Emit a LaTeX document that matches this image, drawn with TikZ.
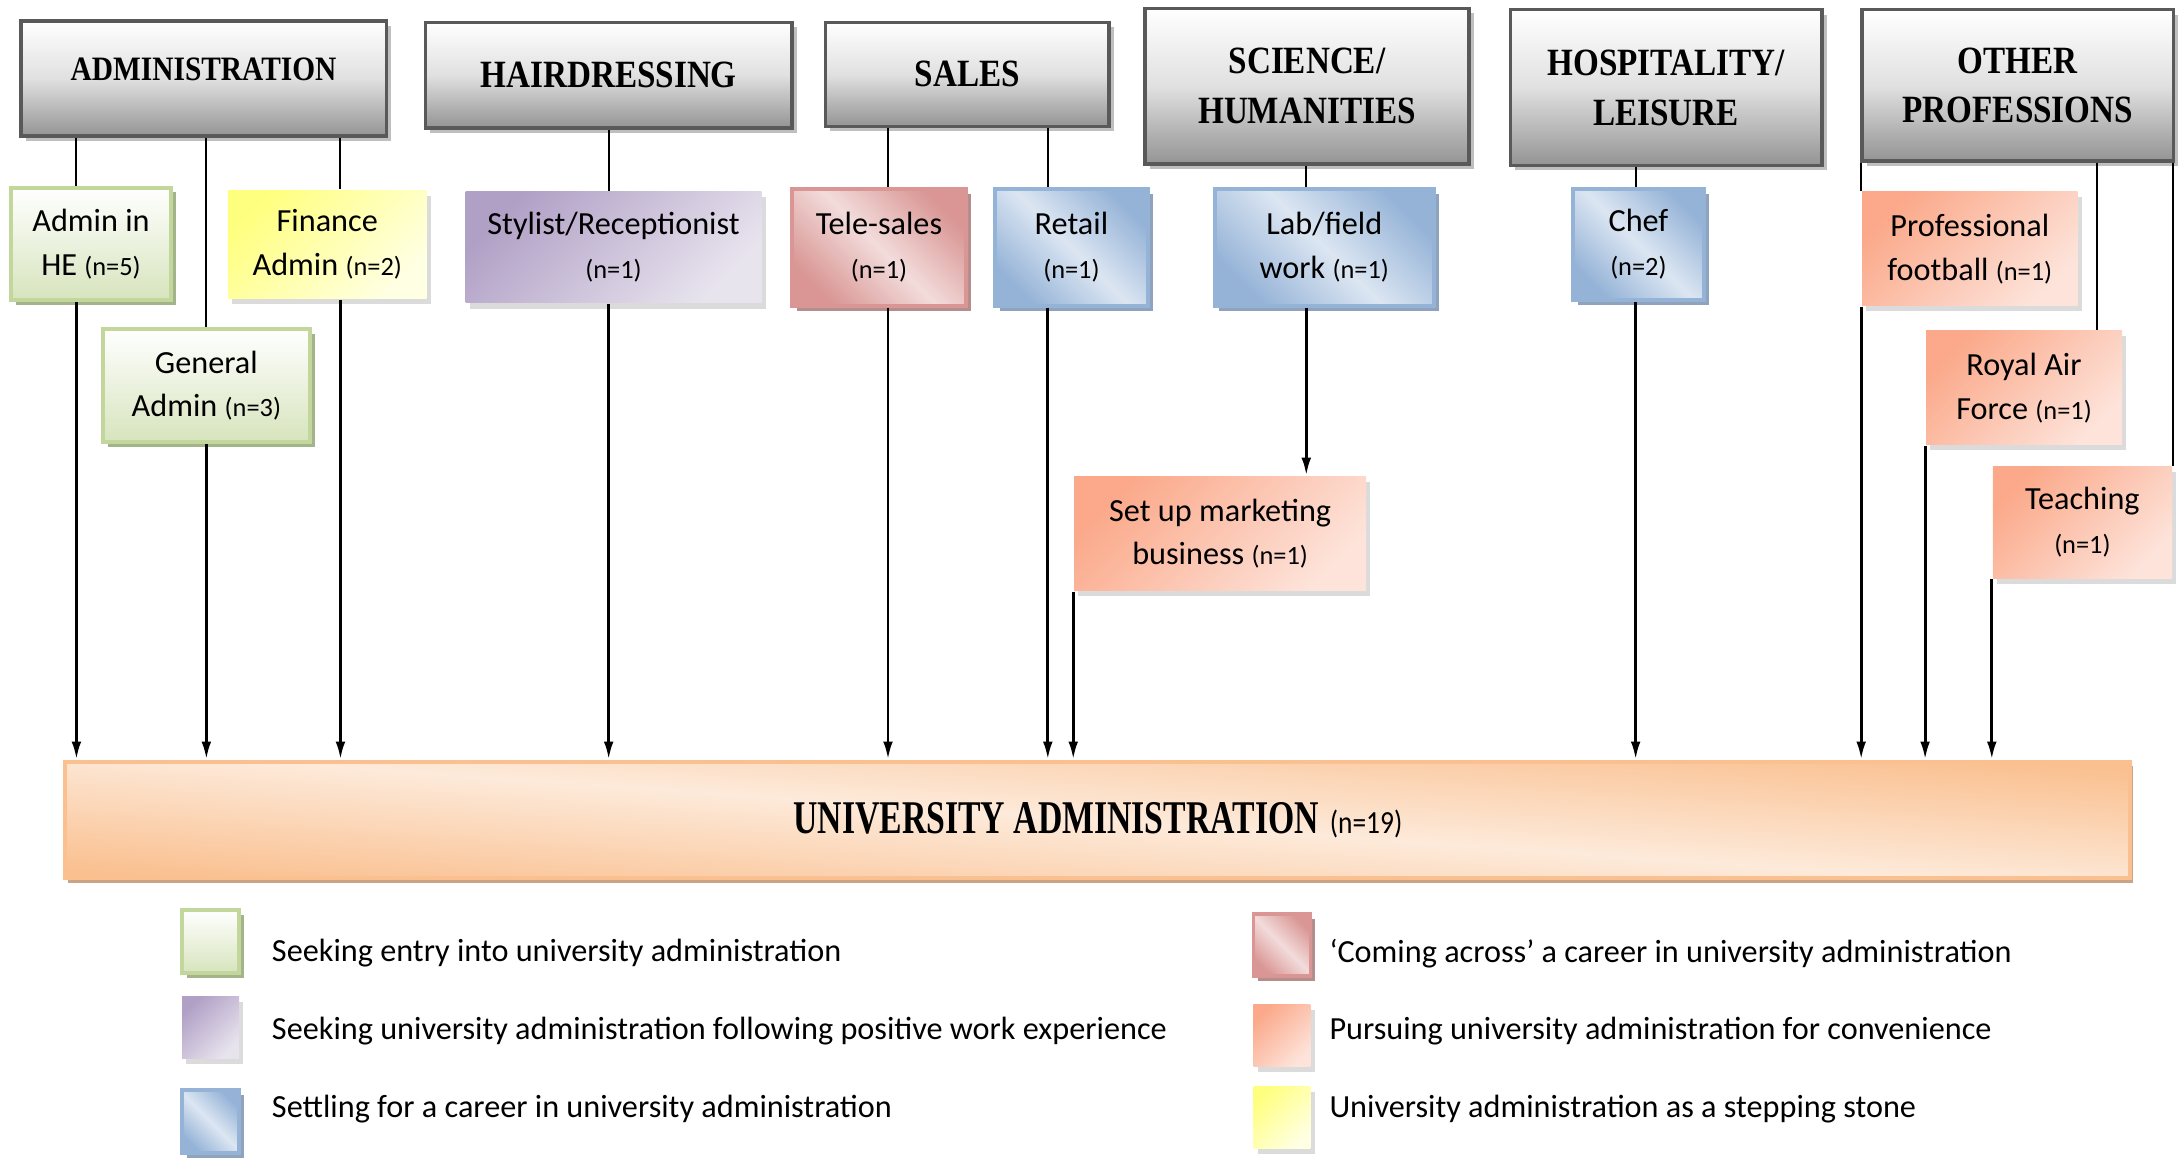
\documentclass[tikz,border=0pt]{standalone}
\usepackage{fontspec}
\usepackage{graphicx}
\usepackage{tikz}
\usetikzlibrary{arrows.meta,shadows,calc}
\setmainfont{Carlito}
\newfontfamily\headfont[FakeStretch=0.86]{Liberation Serif}
\newfontfamily\bighead[FakeStretch=0.72]{Liberation Serif}
\definecolor{hdborder}{HTML}{595959}
\definecolor{grnline}{HTML}{C3D69B}
\definecolor{grnfill}{HTML}{D7E4BD}
\definecolor{grnshadow}{HTML}{A3B38A}
\definecolor{ylwdark}{HTML}{FFFF7F}
\definecolor{ylwlight}{HTML}{FFFFE3}
\definecolor{prpdark}{HTML}{B1A0C6}
\definecolor{prplight}{HTML}{E8E4EE}
\definecolor{reddark}{HTML}{D99694}
\definecolor{redlight}{HTML}{F2DCDB}
\definecolor{redshadow}{HTML}{B48E8D}
\definecolor{bludark}{HTML}{95B3D7}
\definecolor{blulight}{HTML}{DCE6F2}
\definecolor{blushadow}{HTML}{8FA3BC}
\definecolor{orgdark}{HTML}{FBA98A}
\definecolor{orglight}{HTML}{FDE3DA}
\definecolor{pchdark}{HTML}{FAC090}
\definecolor{pchlight}{HTML}{FDEADA}
\definecolor{pchshadow}{HTML}{CBA486}
\newcommand{\ns}[1]{{\fontsize{5.4}{9}\selectfont #1}}

\begin{document}
\begin{tikzpicture}[x=0.1mm,y=-0.1mm]
        \tikzstyle{sector} = [rectangle, draw=hdborder, line width=0.7pt, align=center, top color=white, bottom color=black!42, middle color=black!12, drop shadow={shadow xshift=0.35mm, shadow yshift=-0.35mm, fill=black!25, opacity=1}, font=\headfont\bfseries\fontsize{7.9}{10.2}\selectfont]
        \tikzstyle{job} = [rectangle, align=center, inner sep=1pt, font=\fontsize{6.6}{9}\selectfont]
        \tikzstyle{seek} = [job, draw=grnline, line width=0.8pt, top color=white, bottom color=grnfill, drop shadow={shadow xshift=0.35mm, shadow yshift=-0.35mm, fill=grnshadow, opacity=1}]
        \tikzstyle{stone} = [job, top color=ylwdark, bottom color=ylwlight, shading angle=45, drop shadow={shadow xshift=0.3mm, shadow yshift=-0.4mm, fill=black!40, opacity=0.35}]
        \tikzstyle{posexp} = [job, top color=prpdark, bottom color=prplight, shading angle=45, drop shadow={shadow xshift=0.3mm, shadow yshift=-0.4mm, fill=black!40, opacity=0.35}]
        \tikzstyle{across} = [job, draw=reddark, line width=0.8pt, top color=reddark, bottom color=reddark, middle color=redlight, shading angle=-45, drop shadow={shadow xshift=0.35mm, shadow yshift=-0.35mm, fill=redshadow, opacity=1}]
        \tikzstyle{settle} = [job, draw=bludark, line width=0.8pt, top color=bludark, bottom color=bludark, middle color=blulight, shading angle=-45, drop shadow={shadow xshift=0.35mm, shadow yshift=-0.35mm, fill=blushadow, opacity=1}]
        \tikzstyle{conv} = [job, top color=orgdark, bottom color=orglight, shading angle=45, drop shadow={shadow xshift=0.3mm, shadow yshift=-0.4mm, fill=black!40, opacity=0.35}]
        \tikzstyle{uadmin} = [rectangle, draw=pchdark, line width=0.8pt, top color=pchdark, bottom color=pchdark, middle color=pchlight, shading angle=-4, drop shadow={shadow xshift=0.2mm, shadow yshift=-0.35mm, fill=pchshadow, opacity=1}]
        \tikzstyle{e} = [line width=0.4pt]
        \tikzstyle{arr} = [line width=0.6pt, -{Latex[length=1.3mm,width=0.7mm]}]
        \tikzstyle{lt} = [anchor=west, inner sep=0pt, font=\fontsize{6.6}{8}\selectfont]

        \useasboundingbox (0,0) rectangle (1568,833);

        \node[sector, minimum width=26.3mm, minimum height=8.3mm, text depth=1.4mm](adm) at (146.5,56.5){\fontsize{7}{9}\selectfont ADMINISTRATION};
        \node[sector, minimum width=26.4mm, minimum height=7.6mm](hair) at (438,54){HAIRDRESSING};
        \node[sector, minimum width=20.4mm, minimum height=7.5mm](sales) at (696,53.5){SALES};
        \node[sector, minimum width=23.3mm, minimum height=11.2mm](sci) at (940.5,62){SCIENCE/\\HUMANITIES};
        \node[sector, minimum width=22.4mm, minimum height=11.2mm](hosp) at (1199,63){HOSPITALITY/\\LEISURE};
        \node[sector, minimum width=22.4mm, minimum height=10.9mm](other) at (1452,61.5){OTHER\\PROFESSIONS};

        \node[seek, minimum width=11.5mm, minimum height=8.1mm](he) at (65.5,175.5){Admin in\\HE \ns{(n=5)}};
        \node[seek, minimum width=14.9mm, minimum height=8.1mm](gen) at (148.5,277.5){General\\Admin \ns{(n=3)}};
        \node[stone, minimum width=14.3mm, minimum height=7.8mm](fin) at (235.5,176){Finance\\Admin \ns{(n=2)}};
        \node[posexp, minimum width=21.3mm, minimum height=8mm](sty) at (441.5,178){Stylist/Receptionist\\\ns{(n=1)}};
        \node[across, minimum width=12.5mm, minimum height=8.4mm](tele) at (632.5,178){Tele-sales\\\ns{(n=1)}};
        \node[settle, minimum width=11mm, minimum height=8.4mm](ret) at (771,178){Retail\\\ns{(n=1)}};
        \node[settle, minimum width=15.8mm, minimum height=8.4mm](lab) at (953,178){Lab/field\\work \ns{(n=1)}};
        \node[conv, minimum width=21mm, minimum height=8.2mm](mkt) at (878,384){Set up marketing\\business \ns{(n=1)}};
        \node[settle, minimum width=9.4mm, minimum height=8mm](chef) at (1179,176){Chef\\\ns{(n=2)}};
        \node[conv, minimum width=15.5mm, minimum height=8.2mm](foot) at (1417.5,179){Professional\\football \ns{(n=1)}};
        \node[conv, minimum width=14.1mm, minimum height=8.2mm](raf) at (1456.5,279){Royal Air\\Force \ns{(n=1)}};
        \node[conv, minimum width=12.9mm, minimum height=8mm](teach) at (1498.5,376){Teaching\\\ns{(n=1)}};

        \node[uadmin, minimum width=148.6mm, minimum height=8.4mm](main) at (790,590){{\bighead\bfseries\fontsize{9.6}{10}\selectfont UNIVERSITY ADMINISTRATION} \scalebox{0.85}[1]{\fontsize{6.6}{8}\selectfont (n=19)}};

        \foreach \s/\j/\dx in {adm/he/-10.5, adm/gen/0, adm/fin/9.5, hair/sty/-3.5, sales/tele/6.5, sales/ret/-17, hosp/chef/-2}{
            \coordinate (p) at ($(\j.north)+(\dx,0)$);
            \draw[e](p |- \s.south) -- (p);
            \draw[arr](p |- \j.south) -- (p |- main.north);
        }
        \coordinate (q) at ($(lab.north)+(-13,0)$);
        \draw[e](q |- sci.south) -- (q);
        \draw[arr](q |- lab.south) -- (q |- mkt.north);
        \draw[arr](mkt.south west) -- (mkt.south west |- main.north);
        \draw[e](foot.north west |- other.south) -- (foot.north west);
        \draw[arr](foot.south west) -- (foot.south west |- main.north);
        \coordinate (r) at ($(raf.north east)+(-19,0)$);
        \draw[e](r |- other.south) -- (r);
        \draw[arr](raf.south west) -- (raf.south west |- main.north);
        \draw[e](teach.north east |- other.south) -- (teach.north east);
        \draw[arr](teach.south west) -- (teach.south west |- main.north);

        \node[seek, minimum width=4.1mm, minimum height=4.5mm](k1) at (151.5,677.5){};
        \node[posexp, minimum width=4.1mm, minimum height=4.5mm](k2) at (151.5,739.5){};
        \node[settle, minimum width=4.1mm, minimum height=4.5mm](k3) at (151.5,807){};
        \node[across, minimum width=4.1mm, minimum height=4.5mm](k4) at (922.5,680){};
        \node[conv, minimum width=4.1mm, minimum height=4.5mm](k5) at (922.5,745){};
        \node[stone, minimum width=4.1mm, minimum height=4.5mm](k6) at (922.5,804){};
        \node[lt](t1) at (195,686){Seeking entry into university administration};
        \node[lt](t2) at (195,742){Seeking university administration following positive work experience};
        \node[lt](t3) at (195,798){Settling for a career in university administration};
        \node[lt](t4) at (956,686){‘Coming across’ a career in university administration};
        \node[lt](t5) at (956,742){Pursuing university administration for convenience};
        \node[lt](t6) at (956,798){University administration as a stepping stone};

    \end{tikzpicture}
\end{document}
